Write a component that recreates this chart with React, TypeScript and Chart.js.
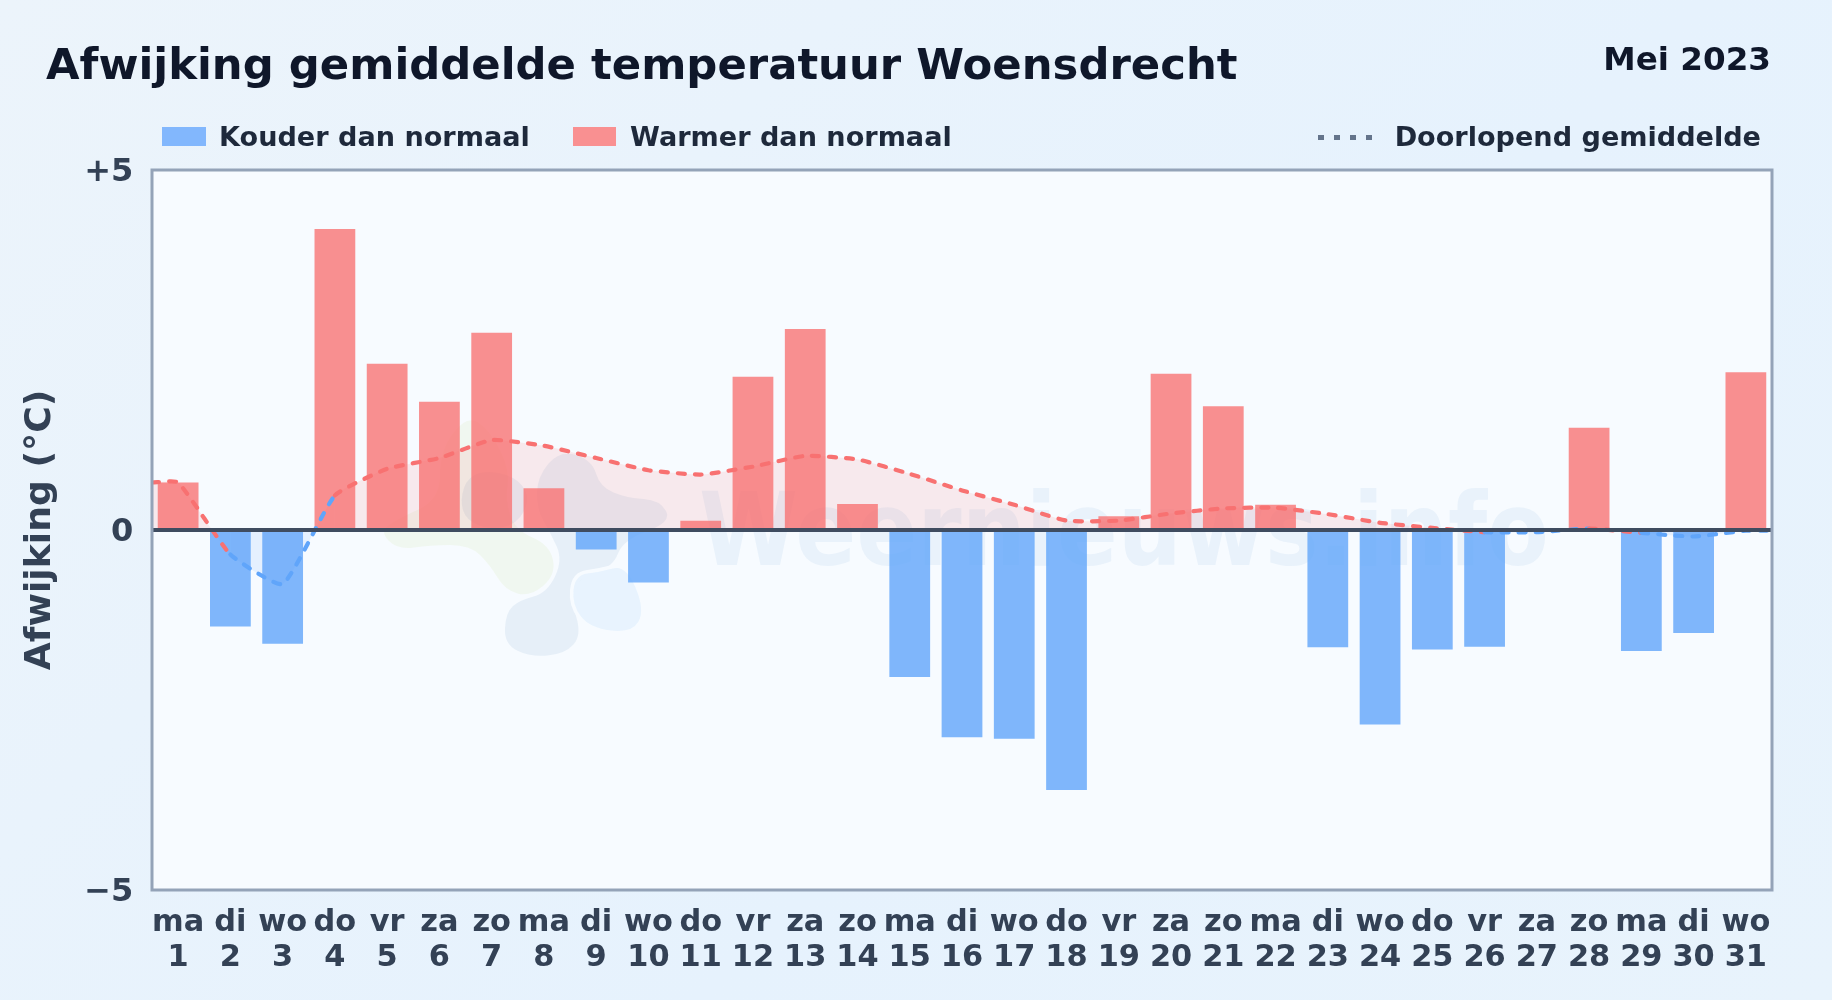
import React, { useEffect, useRef } from "react";
import { Chart, registerables } from "chart.js";

Chart.register(...registerables);

const FONT = '"DejaVu Sans", sans-serif';

const days = [1,2,3,4,5,6,7,8,9,10,11,12,13,14,15,16,17,18,19,20,21,22,23,24,25,26,27,28,29,30,31];
const weekdays = ["ma","di","wo","do","vr","za","zo","ma","di","wo","do","vr","za","zo","ma","di","wo","do","vr","za","zo","ma","di","wo","do","vr","za","zo","ma","di","wo"];
const deviations = [0.66,-1.34,-1.58,4.18,2.31,1.78,2.74,0.58,-0.27,-0.73,0.13,2.13,2.79,0.36,-2.04,-2.88,-2.9,-3.61,0.19,2.17,1.72,0.35,-1.63,-2.7,-1.66,-1.62,0,1.42,-1.68,-1.43,2.19];
const avgDays = [0.5,1,2,3,4,5,6,7,8,9,10,11,12,13,14,15,16,17,18,19,20,21,22,23,24,25,26,27,28,29,30,31,31.5];
const avgValues = [0.66,0.66,-0.34,-0.75,0.48,0.85,1.0,1.25,1.17,1.0,0.83,0.77,0.88,1.03,0.98,0.78,0.55,0.35,0.13,0.13,0.23,0.3,0.31,0.22,0.1,0.03,-0.03,-0.03,0.02,-0.04,-0.09,-0.01,-0.01];
const yTicks: Record<string, string> = { "5": "+5", "0": "0", "-5": "\u22125" };

const TITLE = "Afwijking gemiddelde temperatuur Woensdrecht";
const MONTH = "Mei 2023";
const LEGEND_COLD = "Kouder dan normaal";
const LEGEND_WARM = "Warmer dan normaal";
const LEGEND_AVG = "Doorlopend gemiddelde";
const Y_TITLE = "Afwijking (\u00b0C)";
const WATERMARK = "Weernieuws.info";

const BAR_WARM = "rgba(248,113,113,0.78)";
const BAR_COLD = "rgba(96,165,250,0.8)";
const LINE_WARM = "#f87171";
const LINE_COLD = "#60a5fa";

// Decorative outlines of the faint logo behind the bars (not data)
const logoGreen = [[467,415],[490,430],[510,470],[505,500],[515,530],[550,545],[556,575],[530,597],[505,590],[490,565],[470,545],[430,545],[398,550],[380,532],[395,520],[440,500],[440,450]];
const logoGrey = [[537,477],[560,450],[592,460],[600,487],[627,498],[660,500],[672,522],[623,540],[613,567],[580,577],[570,597],[582,635],[565,654],[530,657],[504,644],[506,612],[520,600],[547,593],[563,560],[550,532],[537,510]];
const logoDrop = [[575,575],[600,572],[626,565],[645,610],[632,633],[590,628],[572,605]];
const logoRound = [[460,500],[468,476],[492,470],[520,480],[530,500],[517,524],[490,530],[466,520]];

function blob(ctx: CanvasRenderingContext2D, pts: number[][]) {
  ctx.beginPath();
  const n = pts.length;
  ctx.moveTo((pts[n - 1][0] + pts[0][0]) / 2, (pts[n - 1][1] + pts[0][1]) / 2);
  for (let i = 0; i < n; i++) {
    const a = pts[i];
    const b = pts[(i + 1) % n];
    ctx.quadraticCurveTo(a[0], a[1], (a[0] + b[0]) / 2, (a[1] + b[1]) / 2);
  }
  ctx.closePath();
}

const plotDecor = {
  id: "plotDecor",
  beforeDatasetsDraw(chart: any) {
    const { ctx, chartArea: a } = chart;
    ctx.save();
    ctx.fillStyle = "#f7fbff";
    ctx.fillRect(a.left, a.top, a.right - a.left, a.bottom - a.top);
    ctx.fillStyle = "rgba(190,220,120,0.11)";
    blob(ctx, logoGreen);
    ctx.fill();
    ctx.fillStyle = "rgba(90,140,190,0.1)";
    blob(ctx, logoGrey);
    ctx.fill();
    blob(ctx, logoRound);
    ctx.fill();
    ctx.strokeStyle = "#f7fbff";
    ctx.lineWidth = 7;
    blob(ctx, logoDrop);
    ctx.stroke();
    ctx.fillStyle = "rgba(120,190,250,0.12)";
    ctx.fill();
    ctx.fillStyle = "rgba(80,140,210,0.08)";
    ctx.font = `bold 102px ${FONT}`;
    ctx.textAlign = "left";
    ctx.textBaseline = "alphabetic";
    ctx.translate(699, 565);
    ctx.scale(0.883, 1);
    ctx.fillText(WATERMARK, 0, 0);
    ctx.restore();
  },
  afterDraw(chart: any) {
    const { ctx, chartArea: a } = chart;
    ctx.save();
    ctx.strokeStyle = "#94a3b8";
    ctx.lineWidth = 3;
    ctx.strokeRect(a.left, a.top, a.right - a.left, a.bottom - a.top);
    ctx.restore();
  },
};

const abs = (s: React.CSSProperties): React.CSSProperties => ({ position: "absolute", whiteSpace: "nowrap", ...s });

export default function App() {
  const ref = useRef<HTMLCanvasElement>(null);
  useEffect(() => {
    const chart = new Chart(ref.current as HTMLCanvasElement, {
      type: "bar",
      data: {
        datasets: [
          {
            type: "line",
            label: LEGEND_AVG,
            data: avgDays.map((d, i) => ({ x: d, y: avgValues[i] })),
            borderColor: LINE_WARM,
            segment: { borderColor: (c: any) => (c.p0.parsed.y >= 0 ? LINE_WARM : LINE_COLD) },
            borderWidth: 4.2,
            borderDash: [7, 10],
            borderCapStyle: "round",
            pointRadius: 0,
            tension: 0.15,
            fill: { target: { value: 0 }, above: "rgba(248,113,113,0.13)", below: "rgba(96,165,250,0.12)" },
            order: 1,
          },
          {
            type: "bar",
            label: "Afwijking",
            data: days.map((d, i) => ({ x: d, y: deviations[i] })),
            backgroundColor: (c: any) => (c.raw && c.raw.y >= 0 ? BAR_WARM : BAR_COLD),
            barPercentage: 0.78,
            categoryPercentage: 1,
            order: 2,
          },
        ],
      } as any,
      options: {
        responsive: false,
        animation: false,
        layout: { padding: { left: 0, top: 170, right: 60, bottom: 0 } },
        plugins: { legend: { display: false }, tooltip: { enabled: false } },
        scales: {
          x: {
            type: "linear",
            min: 0.5,
            max: 31.5,
            offset: false,
            afterBuildTicks(s: any) { s.ticks = days.map((d) => ({ value: d })); },
            grid: { display: false, drawTicks: false, offset: false },
            border: { display: false },
            ticks: {
              autoSkip: false,
              maxRotation: 0,
              minRotation: 0,
              padding: 16,
              color: "#334155",
              font: { family: FONT, weight: "bold", size: 30.4, lineHeight: 1.14 },
              callback: (v: any) => [weekdays[days.indexOf(v)], String(v)],
            },
            afterFit(s: any) { s.height = 110; },
          },
          y: {
            min: -5,
            max: 5,
            afterBuildTicks(s: any) { s.ticks = [{ value: -5 }, { value: 0 }, { value: 5 }]; },
            grid: {
              z: 1,
              drawTicks: false,
              color: (c: any) => (c.tick && c.tick.value === 0 ? "#3f4c60" : "transparent"),
              lineWidth: (c: any) => (c.tick && c.tick.value === 0 ? 4 : 0),
            },
            border: { display: false },
            ticks: {
              padding: 18.7,
              labelOffset: 2.3,
              color: "#334155",
              font: { family: FONT, weight: "bold", size: 32 },
              callback: (v: any) => yTicks[String(v)] ?? "",
            },
            title: {
              display: true,
              text: Y_TITLE,
              color: "#334155",
              padding: { top: 19, bottom: 0 },
              font: { family: FONT, weight: "bold", size: 36.2 },
            },
            afterFit(s: any) { s.width = 152; },
          },
        },
      } as any,
      plugins: [plotDecor],
    });
    return () => chart.destroy();
  }, []);

  const legendText: React.CSSProperties = { fontFamily: FONT, fontWeight: 700, fontSize: 27.1, color: "#1e293b", lineHeight: "32px", top: 121 };
  return (
    <div style={{ position: "fixed", left: 0, top: 0, width: 1832, height: 1000, overflow: "hidden", background: "linear-gradient(135deg,#ecf4fb 0%,#e6f2fd 60%,#e8f3fc 100%)" }}>
      <canvas ref={ref} width={1832} height={1000} style={{ position: "absolute", left: 0, top: 0, width: 1832, height: 1000 }} />
      <div style={abs({ left: 46, top: 38, fontFamily: FONT, fontWeight: 700, fontSize: 43.35, lineHeight: "52px", color: "#0f172a" })}>{TITLE}</div>
      <div style={abs({ right: 61, top: 39, fontFamily: FONT, fontWeight: 700, fontSize: 32.6, lineHeight: "40px", color: "#0f172a" })}>{MONTH}</div>
      <div style={abs({ left: 162, top: 127, width: 44, height: 19, background: "#82b7fd" })} />
      <div style={abs({ left: 219, ...legendText })}>{LEGEND_COLD}</div>
      <div style={abs({ left: 573, top: 127, width: 43, height: 19, background: "#f99091" })} />
      <div style={abs({ left: 630, ...legendText })}>{LEGEND_WARM}</div>
      {[0, 1, 2, 3].map((i) => (
        <div key={i} style={abs({ left: 1318 + i * 16, top: 135, width: 5.5, height: 4.5, background: "#64748b" })} />
      ))}
      <div style={abs({ right: 71, ...legendText })}>{LEGEND_AVG}</div>
    </div>
  );
}
